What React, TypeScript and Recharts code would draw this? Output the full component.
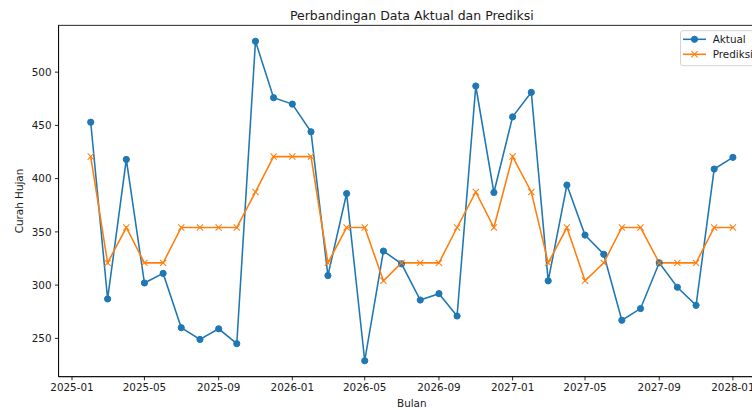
import React from "react";
import { LineChart, Line, XAxis, YAxis } from "recharts";

const months = [
  "2025-02", "2025-03", "2025-04", "2025-05", "2025-06", "2025-07", "2025-08", "2025-09", "2025-10", "2025-11", "2025-12",
  "2026-01", "2026-02", "2026-03", "2026-04", "2026-05", "2026-06", "2026-07", "2026-08", "2026-09", "2026-10", "2026-11", "2026-12",
  "2027-01", "2027-02", "2027-03", "2027-04", "2027-05", "2027-06", "2027-07", "2027-08", "2027-09", "2027-10", "2027-11", "2027-12",
  "2028-01",
];

const aktual = [
  453, 287, 418, 302, 311, 260, 249, 259, 245, 529, 476,
  470, 444, 309, 386, 229, 332, 320, 286, 292, 271, 487, 387,
  458, 481, 304, 394, 347, 329, 267, 278, 321, 298, 281, 409,
  420,
];

const prediksi = [
  420.7, 320.9, 354.1, 320.9, 320.9, 354.1, 354.1, 354.1, 354.1, 387.5, 420.7,
  420.7, 420.7, 320.9, 354.1, 354.1, 304.1, 320.9, 320.9, 320.9, 354.1, 387.5, 354.1,
  420.7, 387.5, 320.9, 354.1, 304.1, 320.9, 354.1, 354.1, 320.9, 320.9, 320.9, 354.1,
  354.1,
];

const xTickLabels = [
  "2025-01", "2025-05", "2025-09", "2026-01", "2026-05", "2026-09", "2027-01", "2027-05", "2027-09", "2028-01",
];

const yTicks = [250, 300, 350, 400, 450, 500];

const toTs = (s: string) => {
  const [y, m] = s.split("-").map(Number);
  return Date.UTC(y, m - 1, 1);
};

const data = months.map((m, i) => ({ t: toTs(m), aktual: aktual[i], prediksi: prediksi[i] }));
const xTicks = xTickLabels.map(toTs);

const tMin = Math.min(...data.map((d) => d.t));
const tMax = Math.max(...data.map((d) => d.t));
const tPad = (tMax - tMin) * 0.05;
const allY = [...aktual, ...prediksi];
const yMin = Math.min(...allY);
const yMax = Math.max(...allY);
const yPad = (yMax - yMin) * 0.05;

const BLUE = "#1f77b4";
const ORANGE = "#ff7f0e";
const FONT = "DejaVu Sans";
const TEXT = "#1a1a1a";

const fmt = (v: number) => {
  const d = new Date(v);
  return `${d.getUTCFullYear()}-${String(d.getUTCMonth() + 1).padStart(2, "0")}`;
};

const CircleDot = (props: any) => {
  const { cx, cy } = props;
  if (cx == null || cy == null) return null;
  return <circle cx={cx} cy={cy} r={3.1} fill={BLUE} stroke={BLUE} strokeWidth={1} />;
};

const XDot = (props: any) => {
  const { cx, cy } = props;
  if (cx == null || cy == null) return null;
  const h = 3.1;
  return (
    <g>
      <line x1={cx - h} y1={cy - h} x2={cx + h} y2={cy + h} stroke={ORANGE} strokeWidth={1.05} />
      <line x1={cx - h} y1={cy + h} x2={cx + h} y2={cy - h} stroke={ORANGE} strokeWidth={1.05} />
    </g>
  );
};

const PL = 58.6, PR = 765, PT = 25.3, PB = 376.7;

export default function App() {
  return (
    <div style={{ position: "absolute", left: 0, top: 0, width: 752, height: 410, overflow: "hidden", background: "#fff" }}>
      <LineChart
        width={800}
        height={410}
        data={data}
        margin={{ top: PT, right: 800 - PR, left: 0, bottom: 0 }}
      >
        <XAxis
          dataKey="t"
          type="number"
          scale="time"
          domain={[tMin - tPad, tMax + tPad]}
          ticks={xTicks}
          tickFormatter={fmt}
          height={410 - PB}
          tickSize={3.66}
          tickMargin={3.2}
          axisLine={{ stroke: "#000", strokeWidth: 0.84 }}
          tickLine={{ stroke: "#000", strokeWidth: 0.84 }}
          tick={{ fontFamily: FONT, fontSize: 10.4, fill: TEXT }}
          interval={0}
          allowDataOverflow
        />
        <YAxis
          type="number"
          domain={[yMin - yPad, yMax + yPad]}
          ticks={yTicks}
          width={PL}
          tickSize={3.66}
          tickMargin={3.4}
          axisLine={{ stroke: "#000", strokeWidth: 0.84 }}
          tickLine={{ stroke: "#000", strokeWidth: 0.84 }}
          tick={{ fontFamily: FONT, fontSize: 10.4, fill: TEXT }}
          interval={0}
          allowDataOverflow
        />
        <Line
          dataKey="aktual"
          name="Aktual"
          type="linear"
          stroke={BLUE}
          strokeWidth={1.57}
          dot={<CircleDot />}
          activeDot={false}
          isAnimationActive={false}
        />
        <Line
          dataKey="prediksi"
          name="Prediksi"
          type="linear"
          stroke={ORANGE}
          strokeWidth={1.57}
          dot={<XDot />}
          activeDot={false}
          isAnimationActive={false}
        />
      </LineChart>
      <svg
        width={752}
        height={410}
        style={{ position: "absolute", left: 0, top: 0, pointerEvents: "none" }}
      >
        <rect x={PL} y={PT} width={PR - PL} height={PB - PT} fill="none" stroke="#000" strokeWidth={0.84} />
        <text x={(PL + PR) / 2} y={20} textAnchor="middle" fontFamily={FONT} fontSize={12.5} fill={TEXT}>
          Perbandingan Data Aktual dan Prediksi
        </text>
        <text x={(PL + PR) / 2} y={407} textAnchor="middle" fontFamily={FONT} fontSize={10.4} fill={TEXT}>
          Bulan
        </text>
        <text
          x={22.6}
          y={(PT + PB) / 2}
          textAnchor="middle"
          fontFamily={FONT}
          fontSize={10.4}
          fill={TEXT}
          transform={`rotate(-90, 22.6, ${(PT + PB) / 2})`}
        >
          Curah Hujan
        </text>
        <g>
          <rect x={680.5} y={30.7} width={79} height={35} rx={2.5} fill="#fff" fillOpacity={0.8} stroke="#cccccc" strokeWidth={0.84} />
          <line x1={683} y1={39.3} x2={706} y2={39.3} stroke={BLUE} strokeWidth={1.57} />
          <circle cx={694.5} cy={39.3} r={3.1} fill={BLUE} stroke={BLUE} strokeWidth={1} />
          <text x={712.7} y={43} fontFamily={FONT} fontSize={10.4} fill={TEXT}>Aktual</text>
          <line x1={683} y1={54.3} x2={706} y2={54.3} stroke={ORANGE} strokeWidth={1.57} />
          <line x1={691.4} y1={51.2} x2={697.6} y2={57.4} stroke={ORANGE} strokeWidth={1.05} />
          <line x1={691.4} y1={57.4} x2={697.6} y2={51.2} stroke={ORANGE} strokeWidth={1.05} />
          <text x={712.7} y={58} fontFamily={FONT} fontSize={10.4} fill={TEXT}>Prediksi</text>
        </g>
      </svg>
    </div>
  );
}
